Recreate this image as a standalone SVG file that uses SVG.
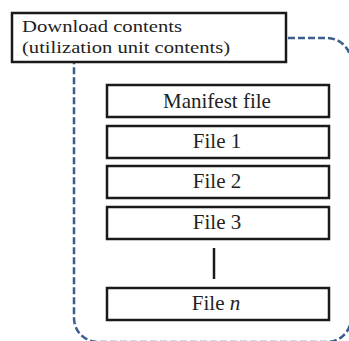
<svg xmlns="http://www.w3.org/2000/svg" width="349" height="341" viewBox="0 0 349 341">
<style>
.box{fill:#fff;stroke:#1a1a1a;stroke-width:2.5}
.t{font-family:'Liberation Serif','DejaVu Serif','Times New Roman',serif;font-size:21px;fill:#222}
.h{font-family:'Liberation Serif','DejaVu Serif','Times New Roman',serif;font-size:17px;fill:#222}
.c{text-anchor:middle}
.dash{fill:none;stroke:#3b5c8f;stroke-width:2.5;stroke-dasharray:7 3}
</style>
<rect width="349" height="341" fill="#fff"/>
<g id="container">
<rect class="dash" x="74" y="38" width="277" height="304" rx="24"/>
</g>
<g id="header">
<rect class="box" x="12" y="13" width="274" height="49"/>
<text class="h" x="22" y="32" textLength="160" lengthAdjust="spacingAndGlyphs">Download contents</text>
<text class="h" x="22" y="53" textLength="208" lengthAdjust="spacingAndGlyphs">(utilization unit contents)</text>
</g>
<g id="manifest">
<rect class="box" x="107" y="85" width="222" height="32"/>
<text class="t c" x="217" y="108">Manifest file</text>
</g>
<g id="file1">
<rect class="box" x="107" y="126" width="222" height="32"/>
<text class="t c" x="217" y="148">File 1</text>
</g>
<g id="file2">
<rect class="box" x="107" y="166" width="222" height="32"/>
<text class="t c" x="217" y="188">File 2</text>
</g>
<g id="file3">
<rect class="box" x="107" y="207" width="222" height="32"/>
<text class="t c" x="217" y="229">File 3</text>
</g>
<g id="connectors">
<line x1="214" y1="248" x2="214" y2="279" stroke="#1a1a1a" stroke-width="2.5"/>
</g>
<g id="filen">
<rect class="box" x="107" y="288" width="222" height="32"/>
<text class="t c" x="216" y="310">File <tspan font-style="italic">n</tspan></text>
</g>
</svg>
